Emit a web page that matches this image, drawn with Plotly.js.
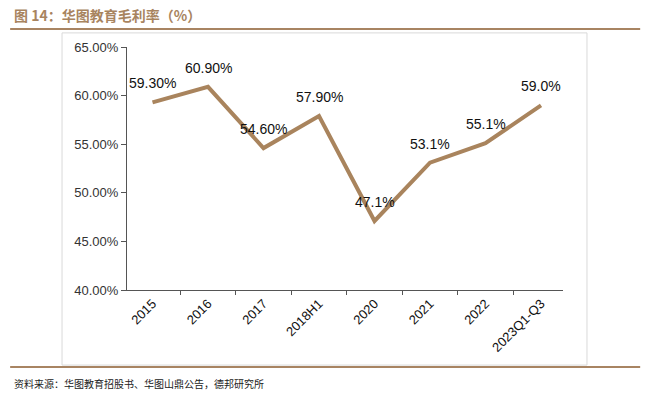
<!DOCTYPE html>
<html><head><meta charset="utf-8">
<script src="https://cdn.plot.ly/plotly-3.0.1.min.js"></script>
<style>body{margin:0;background:#fff}#c{width:647px;height:399px}</style>
</head><body><div id="c"></div>
<script>
const categories = ["2015","2016","2017","2018H1","2020","2021","2022","2023Q1-Q3"];
const grossMargin = [59.3, 60.9, 54.6, 57.9, 47.1, 53.1, 55.1, 59.0];
const labels = ["59.30%","60.90%","54.60%","57.90%","47.1%","53.1%","55.1%","59.0%"];
const yTicks = [40,45,50,55,60,65];
const yTickText = ["40.00%","45.00%","50.00%","55.00%","60.00%","65.00%"];

const tan = "#A9845D";
const trace = {
  x: categories, y: grossMargin,
  type: "scatter", mode: "lines",
  line: {color: tan, width: 4},
  hoverinfo: "none"
};
const dataLabels = categories.map((c, i) => ({
  x: i, y: grossMargin[i], text: labels[i], xref: "x", yref: "y",
  showarrow: false, yshift: 19, xanchor: "center", yanchor: "middle",
  font: {family: "Liberation Sans, Arial", size: 14, color: "#111"}
}));
const layout = {
  width: 647, height: 399,
  margin: {l: 127, r: 84, t: 47, b: 109},
  paper_bgcolor: "#fff", plot_bgcolor: "#fff",
  showlegend: false,
  xaxis: {
    type: "category", categoryorder: "array", categoryarray: categories,
    tickson: "boundaries", ticks: "outside", ticklen: 4,
    tickcolor: "#555", showline: true, linecolor: "#555", linewidth: 1,
    showgrid: false, zeroline: false, tickangle: -45,
    tickfont: {family: "Liberation Sans, Arial", size: 13, color: "#111"}
  },
  yaxis: {
    range: [40, 65], tickmode: "array", tickvals: yTicks, ticktext: yTickText,
    ticks: "outside", ticklen: 5, tickcolor: "#555",
    showline: true, linecolor: "#555", linewidth: 1,
    showgrid: false, zeroline: false,
    tickfont: {family: "Liberation Sans, Arial", size: 13, color: "#333"}
  },
  shapes: [
    {type: "rect", xref: "paper", yref: "paper", x0: -0.149, x1: 1.055, y0: -0.309, y1: 1.058,
     line: {color: "#d9d9d9", width: 1}, layer: "below"},
    {type: "line", xref: "paper", yref: "paper", x0: -0.268, x1: 1.177, y0: 1.074, y1: 1.074,
     line: {color: "#A88462", width: 2}},
    {type: "line", xref: "paper", yref: "paper", x0: -0.268, x1: 1.177, y0: -0.317, y1: -0.317,
     line: {color: "#A88462", width: 2}}
  ],
  annotations: dataLabels.concat([
    {text: "<b>图 14：华图教育毛利率（%）</b>", xref: "paper", yref: "paper",
     x: -0.264, y: 1.132, xanchor: "left", yanchor: "middle", showarrow: false,
     font: {family: "Noto Sans CJK SC", size: 14, color: "#A8845F"}},
    {text: "资料来源：华图教育招股书、华图山鼎公告，德邦研究所", xref: "paper", yref: "paper",
     x: -0.264, y: -0.383, xanchor: "left", yanchor: "middle", showarrow: false,
     font: {family: "Noto Sans CJK SC", size: 10, color: "#222"}}
  ])
};
Plotly.newPlot("c", [trace], layout, {displayModeBar: false, staticPlot: true});
</script></body></html>
